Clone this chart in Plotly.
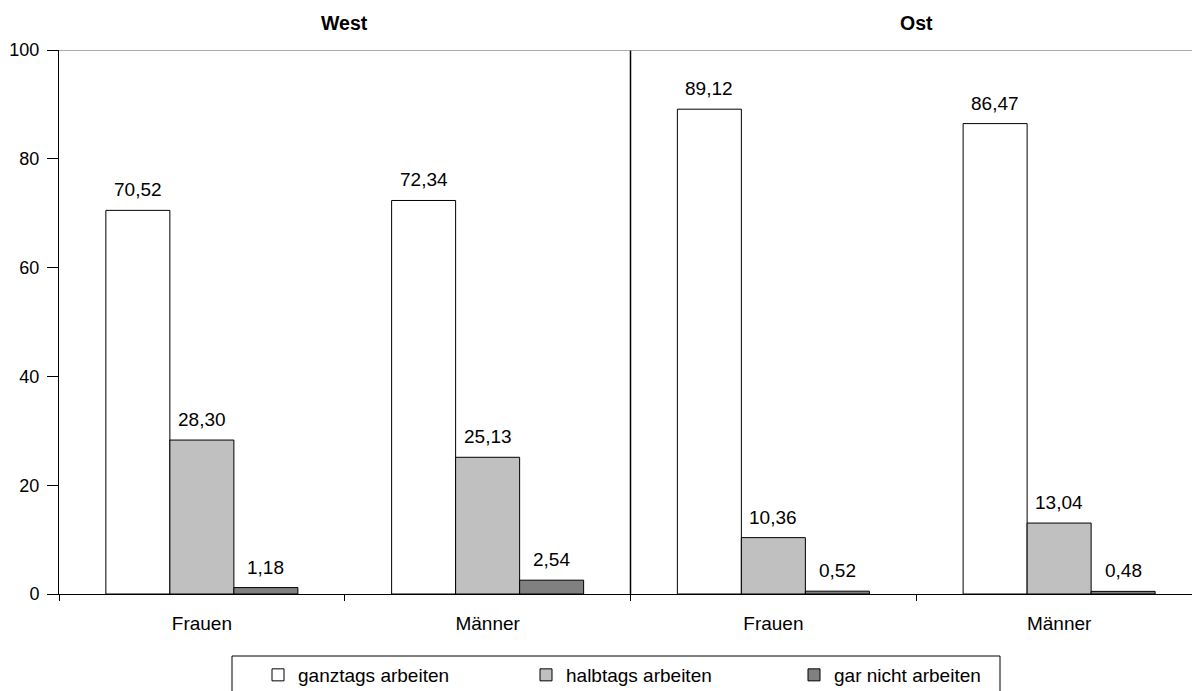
import plotly.graph_objects as go

# ---- data ----
panels = ["West", "Ost"]
genders = ["Frauen", "Männer", "Frauen", "Männer"]
series_names = ["ganztags arbeiten", "halbtags arbeiten", "gar nicht arbeiten"]
ganztags = [70.52, 72.34, 89.12, 86.47]
halbtags = [28.30, 25.13, 10.36, 13.04]
gar_nicht = [1.18, 2.54, 0.52, 0.48]
y_ticks = [0, 20, 40, 60, 80, 100]

series_values = [ganztags, halbtags, gar_nicht]
colors = ["#FFFFFF", "#C0C0C0", "#808080"]

FONT = "Liberation Sans, Arial, sans-serif"
FS = 19
W, H = 1192, 691
ML, MR, MT, MB = 59, 0, 50, 97
bargap = 0.328

x_idx = list(range(len(genders)))
fig = go.Figure()
for name, vals, col in zip(series_names, series_values, colors):
    fig.add_trace(go.Bar(
        x=x_idx, y=vals, name=name,
        marker=dict(color=col, line=dict(color="black", width=1)),
    ))

# value labels
n = len(series_values)
w = (1 - bargap) / n
annotations = []
for s, vals in enumerate(series_values):
    for i, v in enumerate(vals):
        annotations.append(dict(
            x=i + (s - (n - 1) / 2) * w, y=v, xref="x", yref="y",
            text=f"{v:.2f}".replace(".", ","), showarrow=False,
            yanchor="bottom", xanchor="center", yshift=8,
            font=dict(family=FONT, size=FS, color="black"),
        ))

# panel titles
per_panel = len(genders) // len(panels)
for p, title in enumerate(panels):
    annotations.append(dict(
        x=p * per_panel + (per_panel - 1) / 2, y=1.05, xref="x", yref="paper",
        text=f"<b>{title}</b>", showarrow=False, yanchor="middle", xanchor="center",
        font=dict(family=FONT, size=19.5, color="black"),
    ))

plot_w = W - ML - MR
plot_h = H - MT - MB
def px_x(px):
    return (px - ML) / plot_w
def px_y(py):
    return (H - MB - py) / plot_h

shapes = [
    # divider between panels
    dict(type="line", xref="x", yref="y", x0=per_panel - 0.5, x1=per_panel - 0.5,
         y0=0, y1=max(y_ticks), line=dict(color="black", width=1.5)),
    # top border
    dict(type="line", xref="paper", yref="y", x0=0, x1=1, y0=max(y_ticks), y1=max(y_ticks),
         line=dict(color="#8c8c8c", width=1.5)),
    # legend frame
    dict(type="rect", xref="paper", yref="paper", x0=px_x(232), x1=px_x(1000),
         y0=px_y(656), y1=px_y(720), line=dict(color="black", width=1),
         fillcolor="rgba(0,0,0,0)", layer="above"),
]

boundaries = [i - 0.5 for i in range(len(genders) + 1)]

fig.update_layout(
    width=W, height=H,
    margin=dict(l=ML, r=MR, t=MT, b=MB),
    paper_bgcolor="white", plot_bgcolor="white",
    barmode="group", bargap=bargap, bargroupgap=0,
    font=dict(family=FONT, size=FS, color="black"),
    annotations=annotations, shapes=shapes,
    showlegend=True,
    legend=dict(
        orientation="h", xref="container", yref="container",
        x=258 / W, xanchor="left", y=1 - 656 / H, yanchor="top",
        borderwidth=0, bgcolor="rgba(0,0,0,0)",
        entrywidth=223, entrywidthmode="pixels",
        font=dict(family=FONT, size=FS, color="black"),
        traceorder="normal",
    ),
    xaxis=dict(
        range=[-0.5, 3.465], tickvals=x_idx, ticktext=genders,
        ticks="", showgrid=False, zeroline=False,
        showline=True, linecolor="black", linewidth=1,
        ticklabelstandoff=12,
        minor=dict(tickvals=boundaries, ticks="outside", ticklen=6,
                   tickcolor="black", tickwidth=1, showgrid=False),
        fixedrange=True,
    ),
    yaxis=dict(
        range=[0, 100], tickvals=y_ticks, ticks="outside", ticklen=11,
        tickcolor="black", showgrid=False, zeroline=False,
        showline=True, linecolor="black", linewidth=1,
        ticklabelstandoff=4, tickfont=dict(size=18),
        fixedrange=True,
    ),
)

fig.write_html(
    "out.html",
    config={"displayModeBar": False},
    post_script="document.body.style.margin='0px';document.body.style.overflow='hidden';",
)
